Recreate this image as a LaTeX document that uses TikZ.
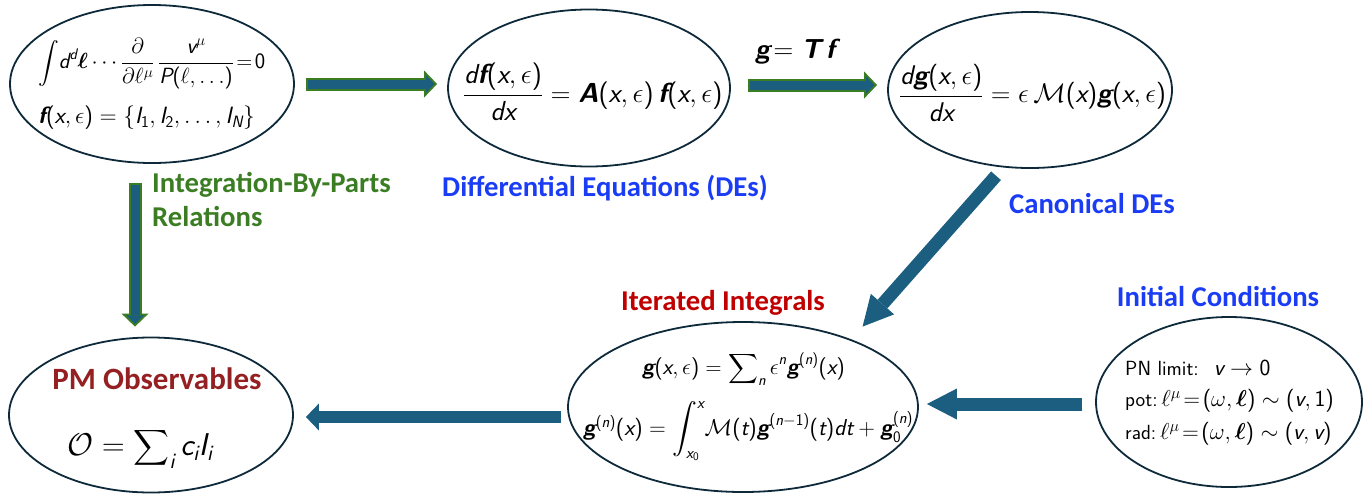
\RequirePackage{fix-cm}
\documentclass[tikz,border=0pt]{standalone}
\usepackage{amsmath}
\usepackage{bm}
\usepackage[no-math]{fontspec}
\newfontfamily\labfont{Carlito}
\newfontfamily\sfmfam{Latin Modern Sans}[NFSSFamily=lmsfm]
\DeclareSymbolFont{operators}{TU}{lmsfm}{m}{n}
\DeclareSymbolFont{sfletters}{TU}{lmsfm}{m}{it}
\DeclareMathSymbol{c}{\mathalpha}{sfletters}{`c}
\DeclareMathSymbol{d}{\mathalpha}{sfletters}{`d}
\DeclareMathSymbol{i}{\mathalpha}{sfletters}{`i}
\DeclareMathSymbol{n}{\mathalpha}{sfletters}{`n}
\DeclareMathSymbol{t}{\mathalpha}{sfletters}{`t}
\DeclareMathSymbol{v}{\mathalpha}{sfletters}{`v}
\DeclareMathSymbol{x}{\mathalpha}{sfletters}{`x}
\DeclareMathSymbol{I}{\mathalpha}{sfletters}{`I}
\DeclareMathSymbol{N}{\mathalpha}{sfletters}{`N}
\DeclareMathSymbol{P}{\mathalpha}{sfletters}{`P}
\usetikzlibrary{shapes.geometric,arrows.meta}
\definecolor{abl}{HTML}{1B5E80}
\definecolor{agr}{HTML}{3B7D23}
\definecolor{ellc}{HTML}{0E2A3A}
\definecolor{lblue}{HTML}{1A3CF5}
\definecolor{lred}{HTML}{C00000}
\definecolor{dred}{HTML}{952023}
\newcommand{\bv}[1]{\text{\sffamily\bfseries\itshape #1}}
\newcommand{\icmath}[1]{{\fontsize{23}{26}\selectfont$#1$}}
\tikzset{
  ell/.style={draw=ellc, line width=1.8pt, ellipse, inner sep=0pt},
  mth/.style={inner sep=0pt, font=\fontsize{23}{27}\selectfont},
  ictext/.style={inner sep=0pt, anchor=west, font=\fontsize{20.5}{24}\selectfont\sffamily},
  lab/.style={inner sep=0pt, font=\fontsize{28.7}{34}\selectfont\labfont\bfseries},
  gout/.style={draw=agr, line width=13pt, -{Triangle[length=13pt,width=27pt,line width=0pt]}},
  gin/.style={draw=abl, line width=9pt, -{Triangle[length=8.5pt,width=17.5pt,line width=0pt]}},
  bigarr/.style={draw=abl, line width=13pt, -{Triangle[length=30pt,width=31pt,line width=0pt]}}
}
\begin{document}
\begin{tikzpicture}[x=1pt,y=-1pt]
\useasboundingbox (0,0) rectangle (1363,493);
% ellipses
\node[ell, minimum width=284pt, minimum height=158pt] (e1) at (152,84) {};
\node[ell, minimum width=282pt, minimum height=157pt] (e2) at (589,88) {};
\node[ell, minimum width=284pt, minimum height=156pt] (e3) at (1030,90) {};
\node[ell, minimum width=284pt, minimum height=155pt] (e4) at (151,415) {};
\node[ell, minimum width=350pt, minimum height=170pt] (e5) at (743,407) {};
\node[ell, minimum width=266pt, minimum height=170pt] (e6) at (1229,402) {};
% contents
\node[mth, anchor=west, font=\fontsize{22}{26}\selectfont] (t1a) at (38,64) {$\displaystyle\int\! d^d\bm{\ell}\cdots\dfrac{\partial}{\partial\ell^\mu}\,\dfrac{v^\mu}{P(\ell,\ldots)}\!=\!0$};
\node[mth, anchor=west, font=\fontsize{23.5}{27}\selectfont] (t1b) at (38,118) {$\bv{f}(x,\epsilon)=\left\{I_1,I_2,\ldots,I_N\right\}$};
\node[mth, anchor=west, font=\fontsize{27.5}{32}\selectfont] (t2) at (463,92) {$\dfrac{d\bv{f}(x,\epsilon)}{dx}=\bv{A}(x,\epsilon)\,\bv{f}(x,\epsilon)$};
\node[mth, anchor=west, font=\fontsize{27}{32}\selectfont] (t3) at (899,93) {$\dfrac{d\bv{g}(x,\epsilon)}{dx}=\epsilon\,\mathcal{M}(x)\bv{g}(x,\epsilon)$};
\node[mth, anchor=west, font=\fontsize{27.5}{32}\selectfont] (tgt) at (755,52) {$\bv{g}\!=\bv{T}\,\bv{f}$};
\node[mth, anchor=west, font=\fontsize{22.4}{27}\selectfont] (t5a) at (642,369) {$\bv{g}(x,\epsilon)=\displaystyle\sum\nolimits_n\epsilon^n\bv{g}^{(n)}(x)$};
\node[mth, anchor=west, font=\fontsize{23}{27}\selectfont] (t5b) at (583,431) {$\bv{g}^{(n)}(x)=\displaystyle\int_{x_0}^{x}\!\mathcal{M}(t)\bv{g}^{(n-1)}(t)dt+\bv{g}_0^{(n)}$};
\node[ictext] (t6a) at (1125,368) {PN limit: \ \icmath{v\to0}};
\node[ictext] (t6b) at (1125,401) {pot:\icmath{\,\ell^\mu\!=\!(\omega,\bm{\ell})\sim(v,1)}};
\node[ictext] (t6c) at (1125,434) {rad:\icmath{\,\ell^\mu\!=\!(\omega,\bm{\ell})\sim(v,v)}};
\node[lab, text=dred, font=\fontsize{31}{36}\selectfont\labfont\bfseries] (t4a) at (157,379) {PM Observables};
\node[mth, anchor=west, font=\fontsize{31.5}{36}\selectfont] (t4b) at (67,448) {$\mathcal{O}=\displaystyle\sum\nolimits_i c_iI_i$};
% labels
\node[lab, text=agr, anchor=west, align=left] (ibp) at (152,200) {Integration-By-Parts\\Relations};
\node[lab, text=lblue] (de) at (605,188) {Differential Equations (DEs)};
\node[lab, text=lblue] (cde) at (1092,204) {Canonical DEs};
\node[lab, text=lred] (ii) at (723,303) {Iterated Integrals};
\node[lab, text=lblue] (ic) at (1218,297) {Initial Conditions};
% arrows with green outline
\draw[gout, shorten <=11pt, shorten >=10pt] (e1.east) -- (e1.east -| e2.west);
\draw[gin, shorten <=13pt, shorten >=12.8pt] (e1.east) -- (e1.east -| e2.west);
\draw[gout, shorten <=17pt, shorten >=10pt] ([yshift=3pt]e2.east) -- ([yshift=3pt]e2.east -| e3.west);
\draw[gin, shorten <=19pt, shorten >=12.8pt] ([yshift=3pt]e2.east) -- ([yshift=3pt]e2.east -| e3.west);
\draw[gout, shorten <=19pt, shorten >=10pt] ([xshift=-17pt]e1.south) -- ([xshift=-17pt]e1.south |- e4.north);
\draw[gin, shorten <=21pt, shorten >=12.8pt] ([xshift=-17pt]e1.south) -- ([xshift=-17pt]e1.south |- e4.north);
% plain arrows
\draw[bigarr, shorten <=11pt, shorten >=17pt] (e3.-109) -- (e5.32.7);
\draw[bigarr, shorten <=13pt, shorten >=8pt] ([yshift=-2pt]e6.west) -- ([yshift=-2pt]e6.west -| e5.east);
\draw[draw=abl, line width=12pt, -{Triangle[length=13pt,width=27pt,line width=0pt]}, shorten <=6pt, shorten >=12pt] ([yshift=-10pt]e5.west) -- ([yshift=-10pt]e5.west -| e4.east);
\end{tikzpicture}
\end{document}
